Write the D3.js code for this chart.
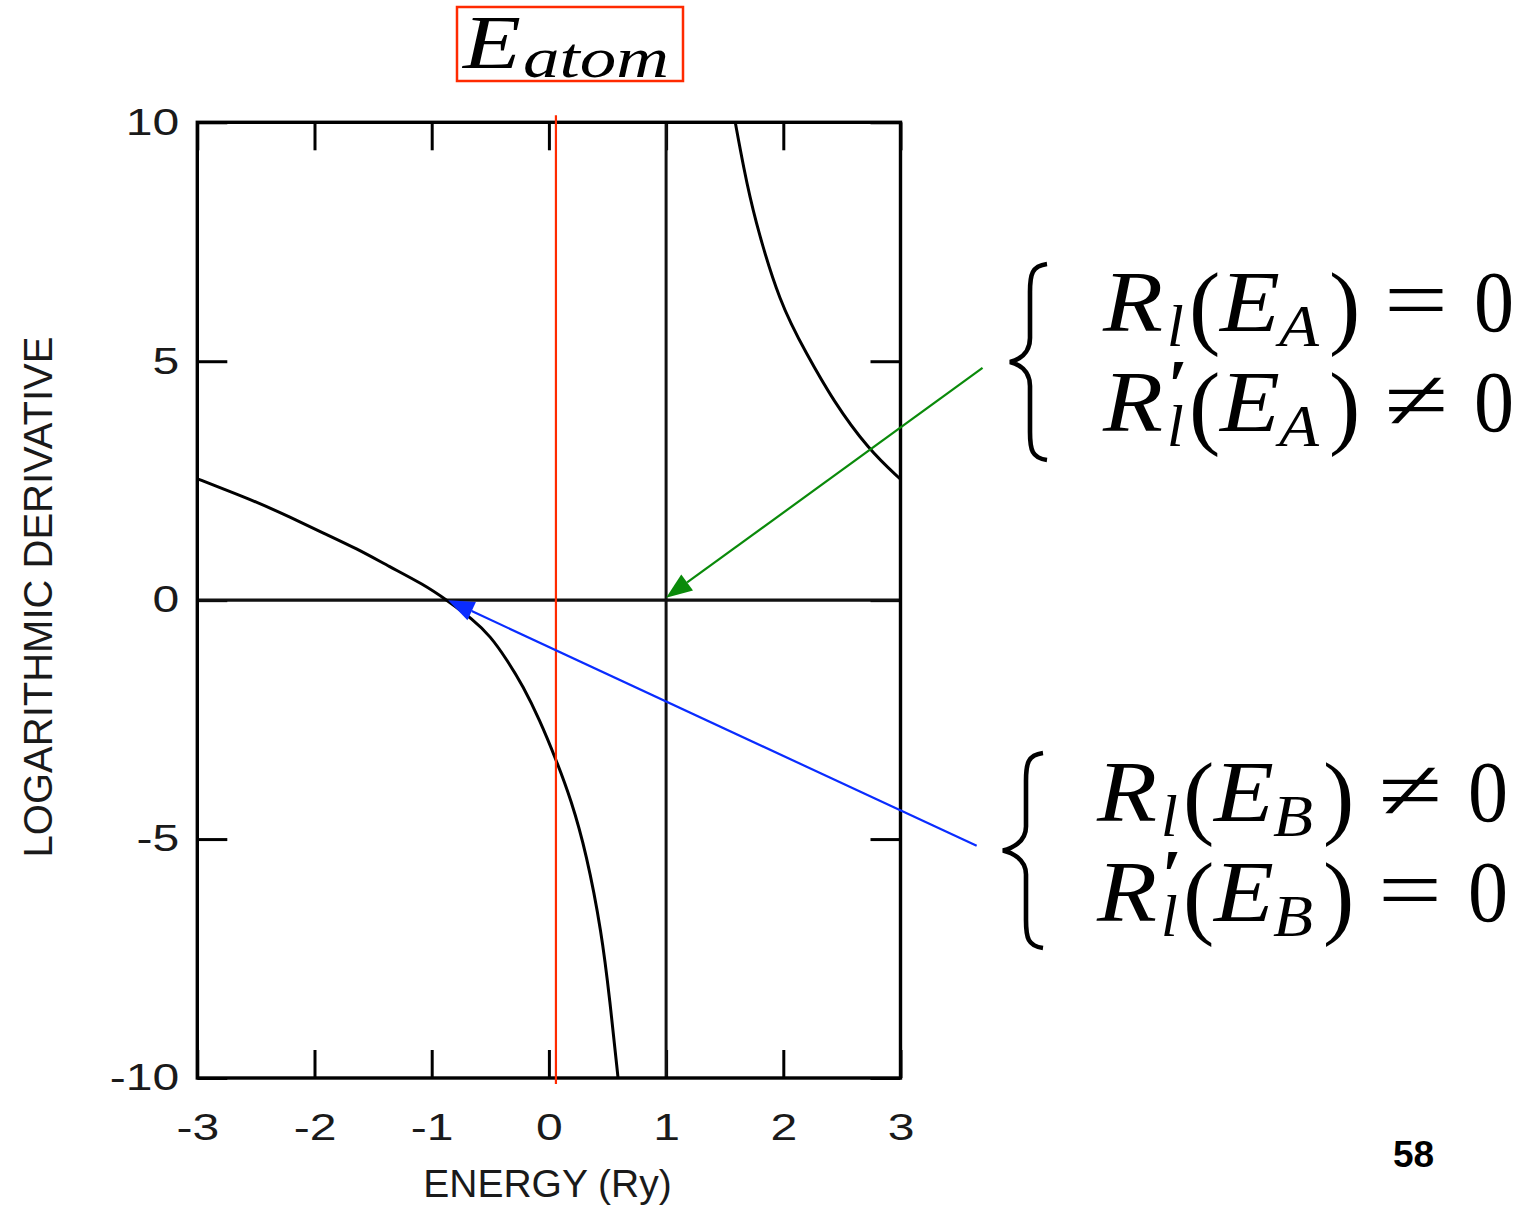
<!DOCTYPE html>
<html>
<head>
<meta charset="utf-8">
<script src="https://cdn.jsdelivr.net/npm/d3@7"></script>
<style>
  html, body { margin: 0; padding: 0; background: #fff; }
  svg { display: block; }
</style>
</head>
<body>
<svg id="chart" width="1537" height="1205"></svg>
<script>
// ---------------- data ----------------
const xTicks = [-3, -2, -1, 0, 1, 2, 3];
const yTicks = [-10, -5, 0, 5, 10];

// lower branch of the logarithmic derivative (energy in Ry, value)
const leftEnergy = [-3.0, -2.78, -2.49, -2.21, -1.93, -1.64, -1.36, -1.07, -0.87, -0.65, -0.50, -0.36, -0.22, -0.08, 0.06, 0.19, 0.32, 0.45, 0.52, 0.59];
const leftValue  = [2.54, 2.33, 2.05, 1.74, 1.41, 1.08, 0.70, 0.33, 0.0, -0.40, -0.75, -1.24, -1.80, -2.50, -3.33, -4.18, -5.30, -6.95, -8.37, -10.0];

// upper branch
const rightEnergy = [1.59, 1.66, 1.75, 1.97, 2.20, 2.42, 2.73, 3.0];
const rightValue  = [10.0, 9.07, 8.02, 6.20, 5.15, 4.19, 3.14, 2.53];

const eAtom = 0.06;          // red line (atomic level)
const eVertical = 1;         // black vertical line
const arrowA = { from: [3.70, 4.86], to: [1.0, 0.05] };   // green arrow (E_A)
const arrowB = { from: [3.65, -5.14], to: [-0.86, 0.0] }; // blue arrow (E_B)

const xLabel = "ENERGY (Ry)";
const yLabel = "LOGARITHMIC DERIVATIVE";
const pageNumber = "58";

// ---------------- layout ----------------
const svg = d3.select("#chart");
const L = 197.3, R = 900.5, T = 122.3, B = 1078;
const x = d3.scaleLinear().domain([-3, 3]).range([L, R]);
const y = d3.scaleLinear().domain([-10, 10]).range([B, T]);

const RED = "#ff2a00", GREEN = "#0a8a0a", BLUE = "#0a2cff";
const fmt = d => String(d);   // plain hyphen-minus, as in the reference

svg.append("defs").append("clipPath").attr("id", "plotClip")
  .append("rect").attr("x", L).attr("y", T).attr("width", R - L).attr("height", B - T);

// axes (inward ticks)
const tickFont = "'Liberation Sans', Arial, Helvetica, sans-serif";
function styleAxis(g) {
  g.select(".domain").remove();
  g.selectAll(".tick line").attr("stroke", "#000").attr("stroke-width", 3);
  g.selectAll(".tick text").attr("fill", "#1a1a1a").style("font-family", tickFont).style("font-size", "37px");
}
function widen(g) {
  g.selectAll(".tick text").each(function () {
    const w = this.getComputedTextLength();
    d3.select(this).attr("textLength", w * 1.3).attr("lengthAdjust", "spacingAndGlyphs");
  });
}

const gx = svg.append("g").attr("transform", `translate(0,${B})`)
  .call(d3.axisBottom(x).tickValues(xTicks).tickSize(-28).tickPadding(36).tickFormat(fmt));
styleAxis(gx); widen(gx);
gx.selectAll(".tick text").attr("dy", "0.71em");

const gxt = svg.append("g").attr("transform", `translate(0,${T})`)
  .call(d3.axisTop(x).tickValues(xTicks).tickSize(-28).tickFormat(""));
styleAxis(gxt);

const gy = svg.append("g").attr("transform", `translate(${L},0)`)
  .call(d3.axisLeft(y).tickValues(yTicks).tickSize(-30).tickPadding(18).tickFormat(fmt));
styleAxis(gy); widen(gy);

const gyr = svg.append("g").attr("transform", `translate(${R},0)`)
  .call(d3.axisRight(y).tickValues(yTicks).tickSize(-30).tickFormat(""));
styleAxis(gyr);

// reference lines
svg.append("line").attr("x1", L).attr("x2", R).attr("y1", y(0)).attr("y2", y(0))
  .attr("stroke", "#111").attr("stroke-width", 3.2);
svg.append("line").attr("x1", x(eVertical)).attr("x2", x(eVertical)).attr("y1", T).attr("y2", B)
  .attr("stroke", "#111").attr("stroke-width", 3);

// curves
const line = d3.line().x(d => x(d[0])).y(d => y(d[1])).curve(d3.curveBasis);
const leftPts = leftEnergy.map((e, i) => [e, leftValue[i]]);
const rightPts = rightEnergy.map((e, i) => [e, rightValue[i]]);
const curves = svg.append("g").attr("clip-path", "url(#plotClip)");
[leftPts, rightPts].forEach(p => {
  curves.append("path").attr("d", line(p)).attr("fill", "none")
    .attr("stroke", "#000").attr("stroke-width", 3);
});

// frame
svg.append("rect").attr("x", L).attr("y", T).attr("width", R - L).attr("height", B - T)
  .attr("fill", "none").attr("stroke", "#000").attr("stroke-width", 3.4);

// red atomic-level line
svg.append("line").attr("x1", x(eAtom)).attr("x2", x(eAtom))
  .attr("y1", y(10) - 7).attr("y2", y(-10) + 6)
  .attr("stroke", RED).attr("stroke-width", 2.2);

// arrows
function arrow(a, color) {
  const x1 = x(a.from[0]), y1 = y(a.from[1]), x2 = x(a.to[0]), y2 = y(a.to[1]);
  const ang = Math.atan2(y2 - y1, x2 - x1);
  const hl = 26, hw = 10;
  const bx = x2 - hl * Math.cos(ang), by = y2 - hl * Math.sin(ang);
  svg.append("line").attr("x1", x1).attr("y1", y1).attr("x2", bx).attr("y2", by)
    .attr("stroke", color).attr("stroke-width", 2.2);
  const px = -Math.sin(ang) * hw, py = Math.cos(ang) * hw;
  svg.append("path")
    .attr("d", `M${x2},${y2}L${bx + px},${by + py}L${bx - px},${by - py}Z`)
    .attr("fill", color);
}
arrow(arrowA, GREEN);
arrow(arrowB, BLUE);

// axis titles
svg.append("text").attr("x", 547.5).attr("y", 1197).attr("text-anchor", "middle")
  .style("font-family", tickFont).style("font-size", "39px").attr("fill", "#1a1a1a").text(xLabel);
svg.append("text").attr("transform", "translate(52,597) rotate(-90)").attr("text-anchor", "middle")
  .style("font-family", tickFont).style("font-size", "40px").attr("fill", "#1a1a1a").text(yLabel);

// page number
svg.append("text").attr("x", 1393).attr("y", 1167)
  .style("font-family", tickFont).style("font-size", "37px").style("font-weight", "bold").text(pageNumber);

// ---------------- math annotations ----------------
const serif = "'Liberation Serif', 'DejaVu Serif', 'Times New Roman', serif";
function glyph(g, txt, gx0, gy0, size, italic, tl) {
  const t = g.append("text").attr("x", gx0).attr("y", gy0)
    .style("font-family", serif).style("font-size", size + "px")
    .style("font-style", italic ? "italic" : "normal").attr("fill", "#000").text(txt);
  if (tl) t.attr("textLength", tl).attr("lengthAdjust", "spacingAndGlyphs");
  return t;
}

// E_atom box
const box = svg.append("g");
box.append("rect").attr("x", 457).attr("y", 7).attr("width", 226).attr("height", 74)
  .attr("fill", "none").attr("stroke", RED).attr("stroke-width", 2.5);
glyph(box, "E", 463, 68, 76, true, 58);
glyph(box, "atom", 523, 77, 58, true, 146);

function mathLine(x0, base, sub, prime, rel) {
  const g = svg.append("g");
  glyph(g, "R", x0, base, 86, true, 60);
  if (prime) glyph(g, "\u2032", x0 + 65, base - 22, 72, false).style("font-weight", "bold");
  glyph(g, "l", x0 + 64, base + 15, 60, true);
  glyph(g, "(", x0 + 86, base + 6, 94, false);
  glyph(g, "E", x0 + 117, base, 86, true, 60);
  glyph(g, sub, x0 + 176, base + 15, 60, true, 40);
  glyph(g, ")", x0 + 226, base + 6, 94, false);
  glyph(g, rel, x0 + 281, base - 2, 86, false, 64);
  glyph(g, "0", x0 + 371, base, 86, false, 40);
}
function brace(xr, yt, yb, xt) {
  const ym = (yt + yb) / 2, xs = xr - 17;
  const d = `M${xr},${yt} C${xs + 2},${yt + 2} ${xs},${yt + 10} ${xs},${yt + 28}
    L${xs},${ym - 24} C${xs},${ym - 8} ${xt + 8},${ym - 2} ${xt},${ym}
    C${xt + 8},${ym + 2} ${xs},${ym + 8} ${xs},${ym + 24}
    L${xs},${yb - 28} C${xs},${yb - 10} ${xs + 2},${yb - 2} ${xr},${yb}`;
  svg.append("path").attr("d", d).attr("fill", "none").attr("stroke", "#000").attr("stroke-width", 4.6);
}

brace(1047, 264, 460, 1010);
mathLine(1103, 331, "A", false, "=");
mathLine(1103, 431, "A", true, "\u2260");

brace(1043, 753, 948, 1003);
mathLine(1097, 821, "B", false, "\u2260");
mathLine(1097, 921, "B", true, "=");
</script>
</body>
</html>
